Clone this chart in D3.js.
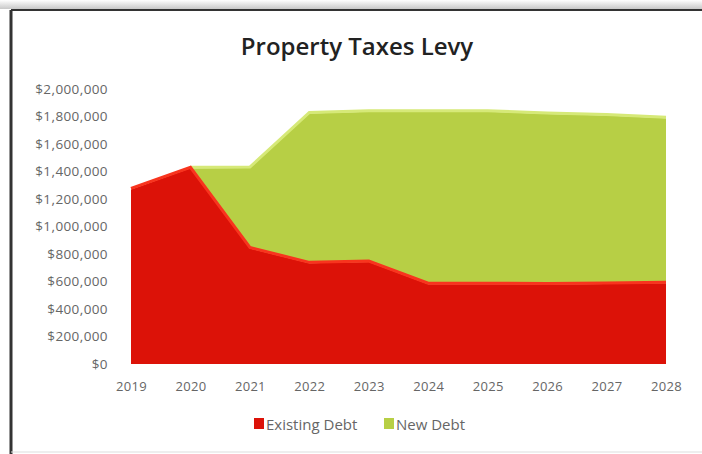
<!DOCTYPE html>
<meta charset="utf-8">
<style>
  body { margin: 0; background: #fff; }
  text { font-family: "Open Sans", sans-serif; }
</style>
<body>
<div id="chart"></div>
<script src="https://d3js.org/d3.v7.min.js"></script>
<script>

var years = ["2019", "2020", "2021", "2022", "2023", "2024", "2025", "2026", "2027", "2028"];
var existingDebt = [1270000, 1423000, 840000, 732000, 742000, 580000, 580000, 578000, 582000, 588000];
var newDebt = [0, 0, 585000, 1090000, 1093000, 1255000, 1255000, 1240000, 1225000, 1200000];
var yTicks = [0, 200000, 400000, 600000, 800000, 1000000, 1200000, 1400000, 1600000, 1800000, 2000000];
var seriesNames = ["Existing Debt", "New Debt"];
var seriesColors = ["#dc1208", "#b7cf45"];
var topColors = ["#f8341e", "#d6e978"];

var W = 702, H = 454;
var svg = d3.select("#chart").append("svg")
    .attr("width", W)
    .attr("height", H);

// frame + shadow
var grad = svg.append("defs").append("linearGradient")
    .attr("id", "shade").attr("x1", 0).attr("y1", 0).attr("x2", 0).attr("y2", 1);
grad.append("stop").attr("offset", "0%").attr("stop-color", "#fff");
grad.append("stop").attr("offset", "100%").attr("stop-color", "#c8c8c8");
svg.append("rect").attr("x", 0).attr("y", 0).attr("width", W).attr("height", 9)
    .attr("fill", "url(#shade)");
svg.append("line").attr("x1", 11).attr("x2", W).attr("y1", 10).attr("y2", 10)
    .attr("stroke", "#333").attr("stroke-width", 2);
svg.append("line").attr("x1", 11).attr("x2", 11).attr("y1", 10).attr("y2", H)
    .attr("stroke", "#333").attr("stroke-width", 3);
svg.append("line").attr("x1", 11).attr("x2", W).attr("y1", 452).attr("y2", 452)
    .attr("stroke", "#ddd").attr("stroke-width", 1);

svg.append("text")
    .attr("x", 357).attr("y", 55)
    .attr("text-anchor", "middle")
    .attr("font-size", 24).attr("font-weight", 600).attr("fill", "#222")
    .text("Property Taxes Levy");

var x = d3.scalePoint().domain(years).range([131, 666]);
var y = d3.scaleLinear().domain([0, 2000000]).range([364, 89]);

var rows = years.map(function(yr, i) {
  return { year: yr, existing: existingDebt[i], "new": newDebt[i] };
});
var stacked = d3.stack().keys(["existing", "new"])(rows);

var area = d3.area()
    .x(function(d) { return x(d.data.year); })
    .y0(function(d) { return y(d[0]); })
    .y1(function(d) { return y(d[1]); });

// draw green first so the red sits in front
[1, 0].forEach(function(k) {
  svg.append("path")
    .datum(stacked[k])
    .attr("fill", seriesColors[k])
    .attr("d", area);
});

// lighter top edge, a nod to the 3D look
var topLine = d3.line()
    .x(function(d) { return x(d.data.year); })
    .y(function(d) { return y(d[1]) - 1; });
svg.append("path")
    .datum(stacked[1].filter(function(d, i) { return i >= 1; }))
    .attr("fill", "none").attr("stroke", topColors[1]).attr("stroke-width", 3)
    .attr("d", topLine);
svg.append("path")
    .datum(stacked[0])
    .attr("fill", "none").attr("stroke", topColors[0]).attr("stroke-width", 3)
    .attr("d", topLine);

var fmt = d3.format(",");
var yAxis = svg.append("g")
    .attr("transform", "translate(131,0)")
    .call(d3.axisLeft(y).tickValues(yTicks).tickSize(0).tickPadding(23)
      .tickFormat(function(d) { return "$" + fmt(d); }));
yAxis.select(".domain").remove();
yAxis.selectAll("text")
    .attr("font-family", "Open Sans").attr("font-size", 13.5)
    .attr("letter-spacing", 0.4).attr("fill", "#666");

var xAxis = svg.append("g")
    .attr("transform", "translate(0,364)")
    .call(d3.axisBottom(x).tickSize(0).tickPadding(18));
xAxis.select(".domain").remove();
xAxis.selectAll("text")
    .attr("font-family", "Open Sans").attr("font-size", 13)
    .attr("letter-spacing", 0.3).attr("fill", "#666");

// legend
var legendX = [254, 384];
seriesNames.forEach(function(name, i) {
  svg.append("rect")
    .attr("x", legendX[i]).attr("y", 418)
    .attr("width", 10).attr("height", 11)
    .attr("fill", seriesColors[i]);
  svg.append("text")
    .attr("x", legendX[i] + 12).attr("y", 430)
    .attr("font-size", 15).attr("fill", "#666")
    .text(name);
});

</script>
</body>
